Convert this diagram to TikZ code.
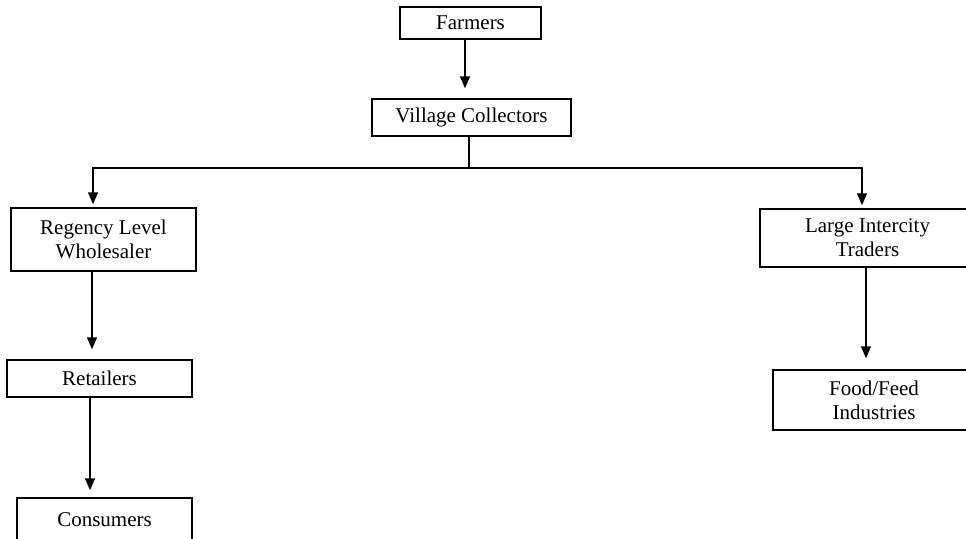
\documentclass[tikz,border=0pt]{standalone}
\usepackage{fontspec}
\setmainfont{Liberation Serif}
\usetikzlibrary{arrows.meta}

\tikzset{
  box/.style={draw, line width=1.5pt, rectangle, inner sep=0pt, align=center,
              font=\fontsize{21}{24}\selectfont},
  link/.style={line width=1.5pt},
  arr/.style={link, -{Triangle[width=10pt,length=12pt]}}
}

\begin{document}
\begin{tikzpicture}[x=1pt, y=-1pt]
  \useasboundingbox (0,0) rectangle (966,538);

  % actors of the marketing chain
  \node[box, minimum width=141pt, minimum height=32pt] (farmers) at (470.5,23) {Farmers};
  \node[box, minimum width=199pt, minimum height=37pt] (village) at (471.5,117.5) {Village Collectors};
  \node[box, minimum width=185pt, minimum height=63pt] (regency) at (103.5,239.5) {Regency Level\\Wholesaler};
  \node[box, minimum width=185pt, minimum height=37pt] (retail) at (99.5,378.5) {Retailers};
  \node[box, minimum width=175pt, minimum height=44pt] (consumers) at (104.5,520) {Consumers};
  \node[box, minimum width=215pt, minimum height=58pt] (large) at (867.5,238) {Large Intercity\\Traders};
  \node[box, minimum width=202pt, minimum height=60pt] (food) at (874,400) {Food/Feed\\Industries};

  % columns and junction points of the connectors
  \path (465,0) coordinate (xF)
        (92,0)  coordinate (xR)
        (90,0)  coordinate (xT)
        (866,0) coordinate (xL);
  \coordinate (jm) at (469,168);
  \coordinate (jl) at (93,168);
  \coordinate (jr) at (862,168);

  % connectors
  \draw[arr, shorten >=10pt] (farmers.south -| xF) -- (village.north -| xF);
  \draw[link] (village.south -| jm) -- (jm);
  \draw[arr, shorten >=3pt, line join=miter] (jm) -- (jl) -- (regency.north -| jl);
  \draw[arr, shorten >=3pt, line join=miter] (jm) -- (jr) -- (large.north -| jr);
  \draw[arr, shorten >=10pt] (regency.south -| xR) -- (retail.north -| xR);
  \draw[arr, shorten >=7pt] (retail.south -| xT) -- (consumers.north -| xT);
  \draw[arr, shorten >=11pt] (large.south -| xL) -- (food.north -| xL);
\end{tikzpicture}
\end{document}
